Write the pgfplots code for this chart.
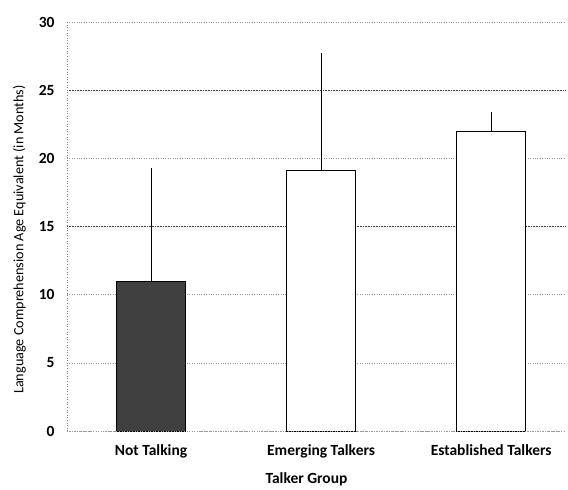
\documentclass[border=0pt]{standalone}
\usepackage{pgfplots}
\pgfplotsset{compat=1.18}
\usepackage{fontspec}
\setmainfont{Carlito}
\begin{document}
\begin{tikzpicture}
\begin{axis}[
  scale only axis,
  width=499pt, height=409pt,
  xmin=-0.494, xmax=2.44,
  ymin=0, ymax=30,
  ytick={0,5,10,20,30},
  extra y ticks={15,25},
  extra y tick style={grid style={black!75, densely dotted, line width=0.7pt}},
  xtick={0,1,2},
  xticklabels={Not Talking,Emerging Talkers,Established Talkers},
  /pgf/number format/assume math mode=true,
  ticklabel style={font=\fontsize{15.5}{17}\selectfont\bfseries},
  yticklabel style={xshift=-9pt},
  xticklabel style={yshift=-10pt},
  xlabel={\textbf{Talker Group}},
  ylabel={Language Comprehension Age Equivalent (in Months)},
  xlabel style={font=\fontsize{15.5}{17}\selectfont, yshift=-8pt, xshift=-10pt},
  ylabel style={font=\fontsize{14.2}{16}\selectfont, yshift=6pt, xshift=-13pt},
  axis line style={draw=none},
  major tick length=0pt,
  ymajorgrids,
  grid style={black!40, dotted, line width=0.6pt},
  clip=false,
]
\addplot[ybar, bar width=69pt, draw=black, line width=0.9pt, fill=black!75,
  error bars/.cd, y dir=plus, y explicit, error bar style={black, line width=0.8pt}, error mark=none]
  coordinates {(0,11.0) +- (0,8.3)};
\addplot[ybar, bar width=69pt, draw=black, line width=0.9pt, fill=white,
  error bars/.cd, y dir=plus, y explicit, error bar style={black, line width=0.8pt}, error mark=none]
  coordinates {(1,19.1) +- (0,8.6) (2,22.0) +- (0,1.4)};
\draw[black!50, dotted, line width=0.6pt] (rel axis cs:0,0) -- (rel axis cs:0,1);
\draw[black!40, dotted, line width=0.6pt] (rel axis cs:0,0) -- (rel axis cs:1,0);
\end{axis}
\path (current axis.south west) ++(-67pt,-57pt) coordinate (bbsw);
\path (current axis.north east) ++(2pt,22pt) coordinate (bbne);
\path (bbsw) rectangle (bbne);
\end{tikzpicture}
\end{document}
